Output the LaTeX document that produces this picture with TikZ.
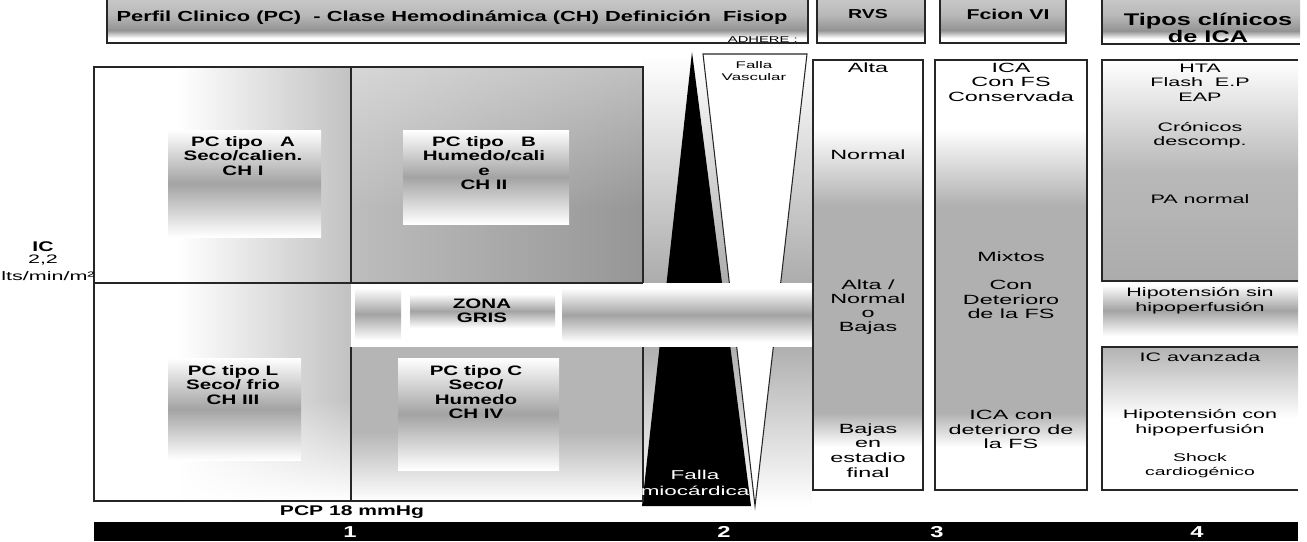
\documentclass[tikz,border=0pt]{standalone}
\usepackage{fontspec}
\setmainfont{Liberation Sans}[FakeStretch=1.75]
\newfontfamily\widebold{Liberation Sans}[FakeStretch=1.5]
\usetikzlibrary{fadings}

\pgfdeclareverticalshading{colfade}{100bp}{color(0bp)=(white); color(25bp)=(white); color(30bp)=(white); color(34bp)=(gray!62); color(58bp)=(gray!62); color(67bp)=(white); color(100bp)=(white)}
\pgfdeclareverticalshading{hdfade}{100bp}{color(0bp)=(white); color(25bp)=(white); color(30bp)=(white); color(38bp)=(gray!85); color(54bp)=(gray!55); color(75bp)=(gray!40); color(100bp)=(gray!40)}
\tikzfading[name=fadeup, top color=transparent!100, bottom color=transparent!0]
\tikzfading[name=fadedown, top color=transparent!0, bottom color=transparent!100]

\tikzset{
    rim/.style={draw=black!85, line width=0.8pt},
    barfade/.style={top color=white, bottom color=white, middle color=gray!72},
    coltxt/.style={font=\fontsize{7.6}{8}\selectfont, inner sep=0pt},
    tiptxt/.style={font=\fontsize{7}{8}\selectfont, inner sep=0pt},
    pctxt/.style={font=\widebold\bfseries\fontsize{7.8}{8.2}\selectfont, align=center, inner sep=0pt},
    hdtxt/.style={font=\widebold\bfseries\fontsize{8.1}{9.6}\selectfont, align=center, inner sep=0pt},
    numtxt/.style={text=white, font=\widebold\bfseries\fontsize{9}{9}\selectfont, inner sep=0pt}
}

\begin{document}
\begin{tikzpicture}[x=0.02cm, y=-0.02cm]
        \useasboundingbox (0,0) rectangle (1307,541);
        \clip (0,0) rectangle (1307,541);

        \shade[left color=white, right color=gray!48] (178,67) rectangle (351,283);
        \shade[left color=gray!52, right color=gray!82] (351,67) rectangle (643,283);
        \fill[white, fill opacity=0.4, path fading=fadedown] (351,67) rectangle (643,210);
        \shade[left color=white, right color=gray!48] (178,283) rectangle (351,501);
        \fill[white, path fading=fadeup] (94,400) rectangle (351,501);
        \fill[gray!58] (351,347) rectangle (643,432);
        \shade[top color=gray!58, bottom color=white] (351,432) rectangle (643,501);

        \shade[top color=white, bottom color=gray!65] (643,55) rectangle (812,283);
        \shade[top color=gray!62, bottom color=white] (643,347) rectangle (812,506);
        \fill[black] (692,52) -- (751,506) -- (642,506) -- cycle;
        \filldraw[fill=white, rim, line width=0.6pt] (703,54) -- (807,54) -- (755,506) -- cycle;

        \fill[white] (351,283) rectangle (812,347);
        \shade[barfade] (355,288) rectangle (401,340);
        \shade[barfade] (410,294) rectangle (555,328);
        \shade[barfade] (562,288) rectangle (812,342);

        \shade[barfade] (168,130) rectangle (321,237);
        \shade[barfade] (403,130) rectangle (569,224);
        \shade[barfade] (168,358) rectangle (301,460);
        \shade[barfade] (398,358) rectangle (559,470);

        \draw[rim] (351,283) -- (94,283) -- (94,501) -- (643,501) -- (643,347);
        \draw[rim] (643,283) -- (643,67) -- (94,67) -- (94,283);
        \draw[rim] (351,67) -- (351,283) -- (643,283);
        \draw[rim] (351,347) -- (351,501);

        \shadedraw[shading=colfade, rim] (813,60) rectangle (923,490);
        \shadedraw[shading=colfade, rim] (935,60) rectangle (1087,490);
        \shade[top color=white, bottom color=gray!65, middle color=gray!55] (1102,60) rectangle (1298,281);
        \draw[rim] (1298,60) -- (1102,60) -- (1102,281) -- (1298,281);
        \shade[barfade] (1103,285) rectangle (1298,336);
        \shade[top color=gray!60, bottom color=white, middle color=white] (1102,347) rectangle (1298,490);
        \draw[rim] (1298,347) -- (1102,347) -- (1102,490) -- (1298,490);

        \shadedraw[shading=hdfade, rim] (107,-6) rectangle (808,43);
        \shadedraw[shading=hdfade, rim] (817,-6) rectangle (925,43);
        \shadedraw[shading=hdfade, rim] (940,-6) rectangle (1066,43);
        \shade[shading=hdfade] (1102,-6) rectangle (1300,44);
        \draw[rim] (1102,-6) -- (1102,44) -- (1300,44);

        \node[hdtxt, font=\widebold\bfseries\fontsize{8.3}{9.6}\selectfont] (perfil) at (452,18) {Perfil Clinico (PC)\ \ -\ Clase Hemodinámica (CH) Definición\ \ Fisiop};
        \node[font=\fontsize{4.8}{5}\selectfont, inner sep=0pt, anchor=east] (adhere) at (798,40) {ADHERE :};
        \node[hdtxt, font=\widebold\bfseries\fontsize{7.4}{8}\selectfont] (rvshd) at (868,14) {RVS};
        \node[hdtxt] (fcionhd) at (1008,14) {Fcion VI};
        \node[hdtxt, font=\widebold\bfseries\fontsize{9.6}{9.8}\selectfont] (tiposhd) at (1208,28) {Tipos clínicos\\de ICA};

        \node[pctxt] (pcA) at (243,156) {PC tipo\ \ \ A\\Seco/calien.\\CH I};
        \node[pctxt] (pcB) at (484,163) {PC tipo\ \ \ B\\Humedo/cali\\e\\CH II};
        \node[pctxt] (pcL) at (233,385) {PC tipo L\\Seco/ frio\\CH III};
        \node[pctxt] (pcC) at (476,392) {PC tipo C\\Seco/\\Humedo\\CH IV};
        \node[pctxt] (zona) at (482,311) {ZONA\\GRIS};

        \node[font=\fontsize{5.5}{6.6}\selectfont, align=center, inner sep=0pt] (fvasc) at (754,71) {Falla\\Vascular};
        \node[text=white, font=\fontsize{7.3}{9.5}\selectfont, align=center, inner sep=0pt] (fmioc) at (695,483) {Falla\\miocárdica};

        \node[font=\widebold\bfseries\fontsize{8}{8}\selectfont, inner sep=0pt] (ic) at (43,247) {IC};
        \node[font=\fontsize{7}{7}\selectfont, inner sep=0pt] (icval) at (43,260) {2,2};
        \node[font=\fontsize{7}{7}\selectfont, inner sep=0pt] (icunit) at (48,276) {lts/min/m²};
        \node[pctxt, font=\widebold\bfseries\fontsize{8}{8}\selectfont] (pcp) at (352,512) {PCP 18 mmHg};

        \foreach \yy/\tx [count=\k] in {68/Alta, 155/Normal, 285/{Alta /}, 299/Normal, 314/o, 328/Bajas,
                430/Bajas, 444/en, 458/estadio, 473/final}
            \node[coltxt] (rvs\k) at (868,\yy) {\tx};

        \foreach \yy/\tx [count=\k] in {68/ICA, 82/{Con FS}, 97/Conservada, 257/Mixtos, 285/Con, 300/Deterioro,
                314/{de la FS}, 415/{ICA con}, 430/{deterioro de}, 444/{la FS}}
            \node[coltxt] (fcion\k) at (1011,\yy) {\tx};

        \foreach \yy/\tx [count=\k] in {68/HTA, 82/{Flash\ \ E.P}, 97/EAP, 127/Crónicos, 142/descomp., 199/{PA normal},
                293/{Hipotensión sin}, 308/hipoperfusión, 357/{IC avanzada}, 415/{Hipotensión con}, 430/hipoperfusión}
            \node[tiptxt] (tipos\k) at (1200,\yy) {\tx};
        \node[tiptxt, font=\fontsize{6.3}{7}\selectfont] (shock) at (1200,458) {Shock};
        \node[tiptxt, font=\fontsize{6.3}{7}\selectfont] (cardio) at (1200,473) {cardiogénico};

        \fill[black] (94,522) rectangle (1298,541);
        \foreach \xx/\nn in {350/1, 724/2, 937/3, 1197/4}
            \node[numtxt] (num\nn) at (\xx,532) {\nn};
    \end{tikzpicture}
\end{document}
